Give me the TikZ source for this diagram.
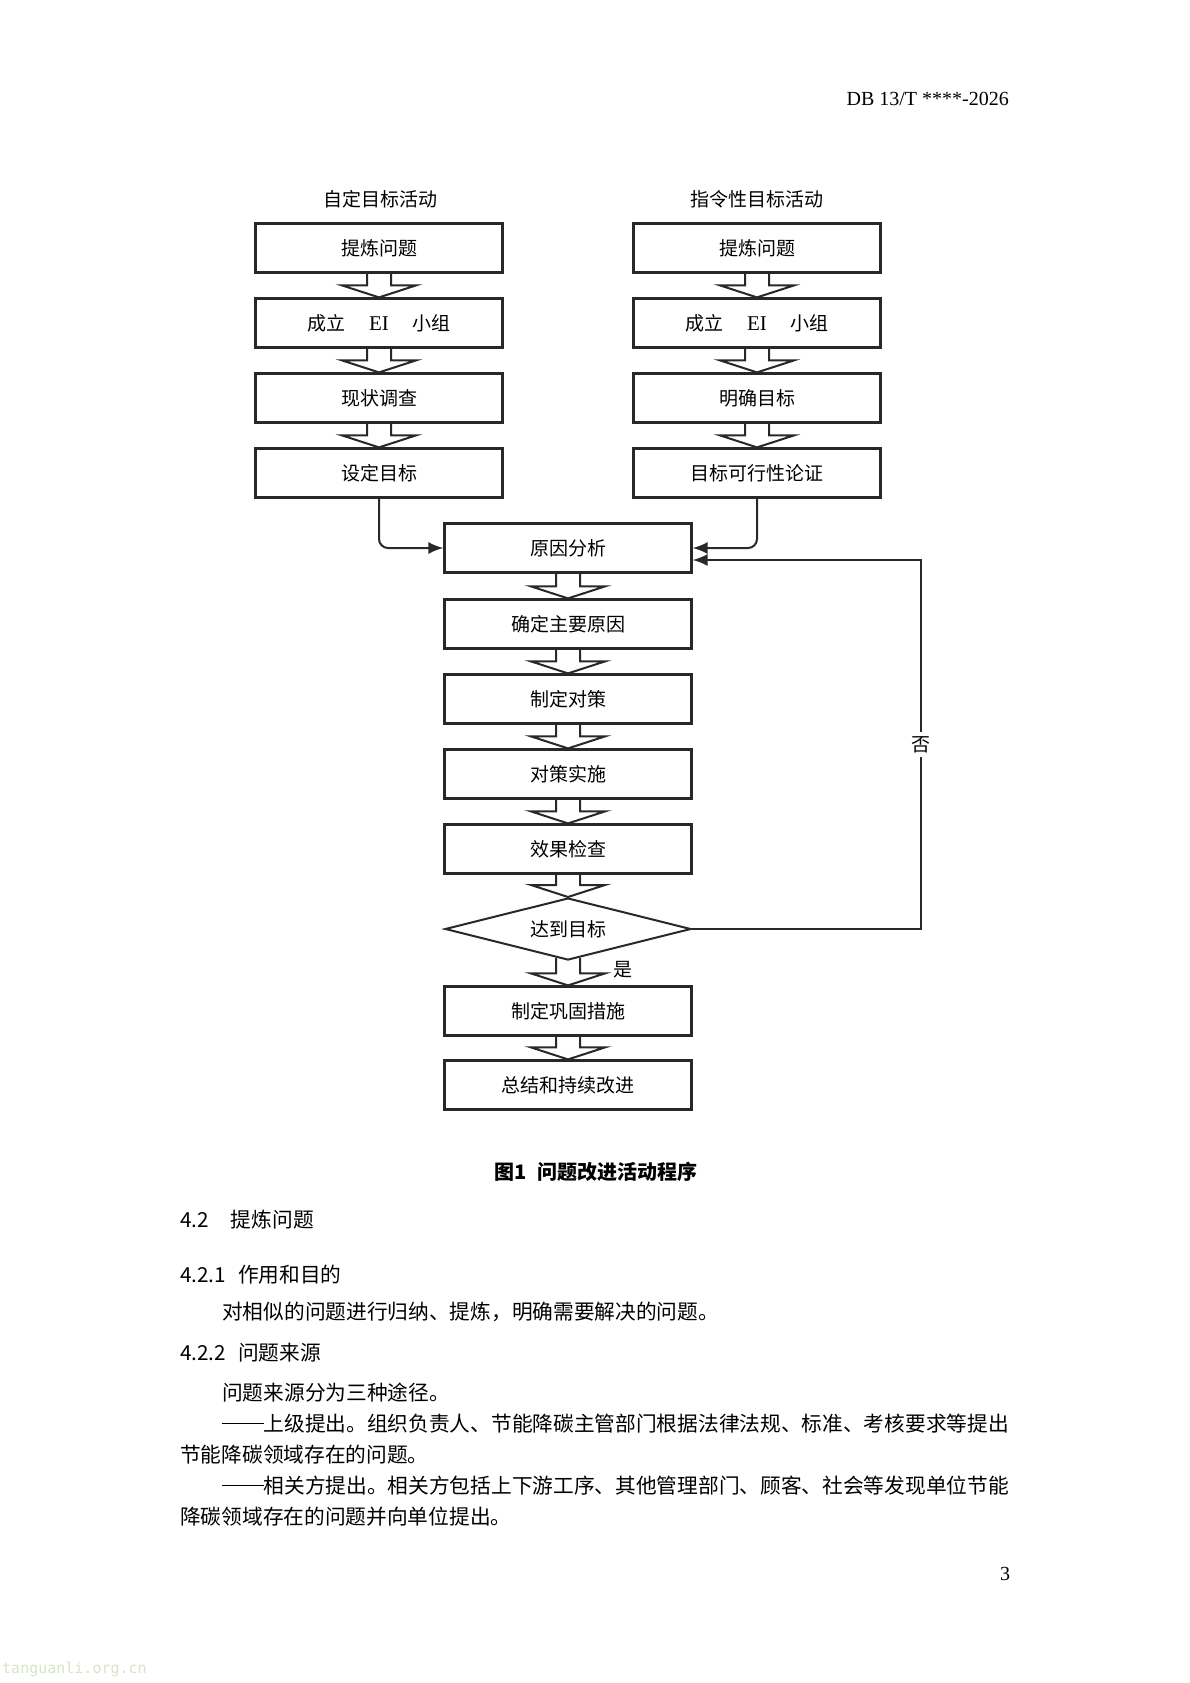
\documentclass[tikz,border=0pt]{standalone}
\usepackage{fontspec}
\setmainfont{Noto Sans CJK SC}
\newfontfamily\tnr{Liberation Serif}
\newfontfamily\wmfont{DejaVu Sans Mono}
\usetikzlibrary{shapes.geometric,arrows.meta}
\definecolor{linegray}{RGB}{40,40,40}
\definecolor{wmgreen}{RGB}{214,230,198}
\newcommand{\longdash}{\rule[0.36em]{2em}{1.1pt}}

\begin{document}
\begin{tikzpicture}[x=1pt, y=-1pt,
    box/.style={draw=linegray, line width=2.2pt, minimum width=247pt, minimum height=49pt, inner sep=0pt, font=\fontsize{19}{19}\selectfont},
    decide/.style={draw=linegray, line width=2pt, shape=diamond, aspect=4, minimum width=246pt, minimum height=62pt, inner sep=0pt, font=\fontsize{19}{19}\selectfont},
    blk/.style={draw=linegray, line width=2pt, line join=miter},
    conn/.style={draw=linegray, line width=2pt, rounded corners=9pt, -{Latex[length=15pt,width=12pt]}},
    title/.style={font=\fontsize{19}{19}\selectfont},
    body/.style={anchor=west, inner sep=0pt, font=\fontsize{20.7}{20.7}\selectfont}]
    % Seite
    \fill[white] (0,0) rectangle (1190,1683);
    \useasboundingbox (0,0) rectangle (1190,1683);
    \node[anchor=east, inner sep=0pt, font=\tnr\fontsize{20}{20}\selectfont] (head) at (1009,99) {DB 13/T ****-2026};
    % Spaltenkoepfe
    \node[title] (tl) at (380,199) {自定目标活动};
    \node[title] (tr) at (757,199) {指令性目标活动};
    % linke Spalte
    \node[box] (l1) at (379,248) {提炼问题};
    \node[box] (l2) at (379,323) {成立\hspace{24pt}{\tnr\fontsize{21}{21}\selectfont EI}\hspace{24pt}小组};
    \node[box] (l3) at (379,398) {现状调查};
    \node[box] (l4) at (379,473) {设定目标};
    % rechte Spalte
    \node[box] (r1) at (757,248) {提炼问题};
    \node[box] (r2) at (757,323) {成立\hspace{24pt}{\tnr\fontsize{21}{21}\selectfont EI}\hspace{24pt}小组};
    \node[box] (r3) at (757,398) {明确目标};
    \node[box] (r4) at (757,473) {目标可行性论证};
    % mittlere Spalte
    \node[box] (c1) at (568,548) {原因分析};
    \node[box] (c2) at (568,624) {确定主要原因};
    \node[box] (c3) at (568,699) {制定对策};
    \node[box] (c4) at (568,774) {对策实施};
    \node[box] (c5) at (568,849) {效果检查};
    \node[decide] (dd) at (568,929) {达到目标};
    \node[box] (c6) at (568,1011) {制定巩固措施};
    \node[box] (c7) at (568,1085) {总结和持续改进};
    % Blockpfeile
    \foreach \a/\b in {l1/l2,l2/l3,l3/l4,r1/r2,r2/r3,r3/r4,c1/c2,c2/c3,c3/c4,c4/c5,c5/dd,c6/c7}
        \draw[blk] ([xshift=-12pt]\a.south) -- ([xshift=-12pt,yshift=12pt]\b.north) -- ([xshift=-37pt,yshift=12pt]\b.north) -- (\b.north) -- ([xshift=37pt,yshift=12pt]\b.north) -- ([xshift=12pt,yshift=12pt]\b.north) -- ([xshift=12pt]\a.south);
    \draw[blk] ([xshift=-12pt,yshift=3pt]dd.south) -- ([xshift=-12pt,yshift=12pt]c6.north) -- ([xshift=-37pt,yshift=12pt]c6.north) -- (c6.north) -- ([xshift=37pt,yshift=12pt]c6.north) -- ([xshift=12pt,yshift=12pt]c6.north) -- ([xshift=12pt,yshift=3pt]dd.south);
    \node[title] (yes) at (623,970) {是};
    % Verbindungen
    \draw[conn] (l4.south) |- (c1.west);
    \draw[conn] (r4.south) |- (c1.east);
    \draw[conn, rounded corners=0pt] (dd.east) -- ++(229,0) |- ([yshift=-12pt]c1.east)
        node[pos=0.25, fill=white, inner sep=4pt, title] (no) {否};
    % Bildunterschrift
    \node[font=\bfseries\fontsize{20}{20}\selectfont] (cap) at (596,1172) {图1\hspace{10pt}问题改进活动程序};
    % Text
    \node[body] (t1) at (180,1220) {4.2\hspace{22pt}提炼问题};
    \node[body] (t2) at (180,1275) {4.2.1\hspace{12pt}作用和目的};
    \node[body] (t3) at (222,1312) {对相似的问题进行归纳、提炼，明确需要解决的问题。};
    \node[body] (t4) at (180,1353) {4.2.2\hspace{12pt}问题来源};
    \node[body] (t5) at (222,1393) {问题来源分为三种途径。};
    \node[body] (t6) at (222,1424) {\longdash 上级提出。组织负责人、节能降碳主管部门根据法律法规、标准、考核要求等提出};
    \node[body] (t7) at (180,1455) {节能降碳领域存在的问题。};
    \node[body] (t8) at (222,1486) {\longdash 相关方提出。相关方包括上下游工序、其他管理部门、顾客、社会等发现单位节能};
    \node[body] (t9) at (180,1517) {降碳领域存在的问题并向单位提出。};
    \node[inner sep=0pt, font=\tnr\fontsize{20}{20}\selectfont] (pg) at (1005,1574) {3};
    \node[anchor=west, inner sep=0pt, text=wmgreen, font=\wmfont\fontsize{15}{15}\selectfont] (wm) at (2,1669) {tanguanli.org.cn};
\end{tikzpicture}
\end{document}
